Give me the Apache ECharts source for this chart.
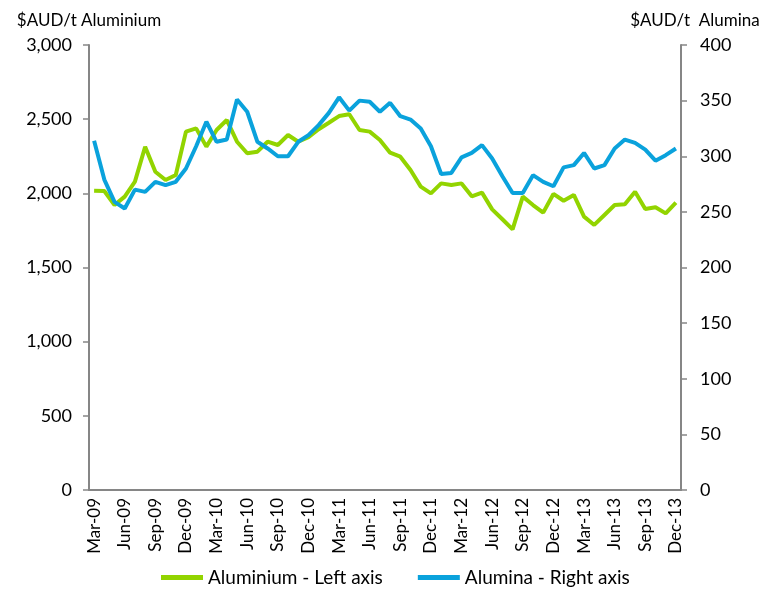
<!DOCTYPE html>
<html>
<head>
<meta charset="utf-8">
<script src="https://cdn.jsdelivr.net/npm/echarts@6/dist/echarts.min.js"></script>
<style>
  html, body { margin: 0; padding: 0; background: #fff; }
  #chart { width: 766px; height: 597px; }
</style>
</head>
<body>
<div id="chart"></div>
<script>
// months Mar-09 .. Dec-13
var monthNames = ['Jan','Feb','Mar','Apr','May','Jun','Jul','Aug','Sep','Oct','Nov','Dec'];
var months = [];
for (var k = 0; k < 58; k++) {
  var m = (2 + k) % 12;
  var y = 9 + Math.floor((2 + k) / 12);
  months.push(monthNames[m] + '-' + (y < 10 ? '0' + y : y));
}

// Aluminium, $AUD/t (left axis)
var aluminium = [
  2018, 2016, 1921, 1978, 2079, 2314, 2146, 2090, 2124, 2416,
  2438, 2315, 2427, 2494, 2348, 2270, 2281, 2348, 2326, 2393,
  2348, 2378, 2432, 2476, 2521, 2533, 2427, 2416, 2360, 2274,
  2247, 2157, 2045, 2000, 2067, 2056, 2067, 1980, 2005, 1892,
  1825, 1757, 1978, 1921, 1870, 1996, 1950, 1989, 1843, 1787,
  1854, 1921, 1926, 2011, 1894, 1906, 1865, 1937
];

// Alumina, $AUD/t (right axis)
var alumina = [
  314, 279, 259, 253, 270, 268, 277, 274, 277, 289,
  309, 331, 313, 315, 351, 340, 313, 307, 300, 300,
  313, 319, 328, 339, 353, 341, 350, 349, 340, 348,
  336, 333, 325, 309, 284, 285, 299, 303, 310, 298,
  282, 267, 267, 283, 277, 273, 290, 292, 303, 289,
  292, 307, 315, 312, 306, 296, 301, 307
];

var axisGrey = '#868686';
var font = 'Lato, "Open Sans", sans-serif';

var chart = echarts.init(document.getElementById('chart'));
var option = {
  animation: false,
  textStyle: { fontFamily: font, color: '#000' },
  grid: { left: 89, right: 85, top: 45, bottom: 107 },
  legend: {
    bottom: 5,
    left: 156,
    itemGap: 35,
    itemWidth: 42,
    itemHeight: 5,
    icon: 'rect',
    textStyle: { fontFamily: font, fontSize: 19, color: '#000' },
    data: ['Aluminium - Left axis', 'Alumina - Right axis']
  },
  xAxis: {
    type: 'category',
    data: months,
    boundaryGap: true,
    axisLine: { lineStyle: { color: axisGrey, width: 2 } },
    axisTick: { interval: 2, length: 6, lineStyle: { color: axisGrey, width: 1.5 } },
    axisLabel: {
      interval: 2,
      rotate: 90,
      fontSize: 17,
      color: '#000',
      fontFamily: font,
      margin: 8,
      padding: [0, 0, 0, 0]
    }
  },
  yAxis: [
    {
      type: 'value',
      min: 0, max: 3000, interval: 500,
      name: '$AUD/t Aluminium',
      nameGap: 16,
      nameTextStyle: { fontSize: 17, color: '#000', fontFamily: font },
      axisLine: { show: true, lineStyle: { color: axisGrey, width: 2 } },
      axisTick: { show: true, length: 6, lineStyle: { color: axisGrey, width: 1.5 } },
      splitLine: { show: false },
      axisLabel: {
        fontSize: 18, color: '#000', fontFamily: font, margin: 17,
        formatter: function (v) { return v.toLocaleString('en-US'); }
      }
    },
    {
      type: 'value',
      min: 0, max: 400, interval: 50,
      position: 'right',
      name: '$AUD/t  Alumina',
      nameGap: 16,
      nameTextStyle: { fontSize: 17, color: '#000', fontFamily: font, padding: [0, 0, 0, 28] },
      axisLine: { show: true, lineStyle: { color: axisGrey, width: 2 } },
      axisTick: { show: true, length: 6, lineStyle: { color: axisGrey, width: 1.5 } },
      splitLine: { show: false },
      axisLabel: { fontSize: 18, color: '#000', fontFamily: font, margin: 19 }
    }
  ],
  series: [
    {
      name: 'Aluminium - Left axis',
      type: 'line',
      yAxisIndex: 0,
      data: aluminium,
      showSymbol: false,
      color: '#92d400',
      lineStyle: { width: 4, color: '#92d400' }
    },
    {
      name: 'Alumina - Right axis',
      type: 'line',
      yAxisIndex: 1,
      data: alumina,
      showSymbol: false,
      color: '#0aa2dc',
      lineStyle: { width: 4, color: '#0aa2dc' }
    }
  ]
};
chart.setOption(option);
</script>
</body>
</html>
